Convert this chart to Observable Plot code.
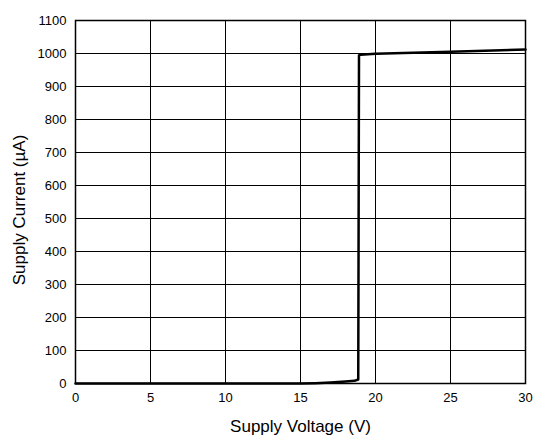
<!DOCTYPE html>
<html><head><meta charset="utf-8">
<script src="https://cdn.jsdelivr.net/npm/d3@7"></script>
<script src="https://cdn.jsdelivr.net/npm/@observablehq/plot@0.6"></script>
<style>body{margin:0;background:#fff;} svg{font-family:"Liberation Sans",Arial,sans-serif;}</style>
</head><body><div id="chart"></div>
<script>
const voltage = [0, 5, 10, 15, 16, 17, 18, 18.6, 18.85, 18.9, 19, 20, 25, 30];
const current = [0, 0, 0, 0, 1, 3, 6, 8, 12, 995, 996, 999, 1005, 1012];
const xTicks = [0, 5, 10, 15, 20, 25, 30];
const yTicks = [0, 100, 200, 300, 400, 500, 600, 700, 800, 900, 1000, 1100];
const xLabel = "Supply Voltage (V)";
const yLabel = "Supply Current (µA)";
const data = voltage.map((v, i) => ({v, c: current[i]}));

const chart = Plot.plot({
  width: 534, height: 439,
  marginLeft: 75, marginRight: 9, marginTop: 20, marginBottom: 56,
  style: {fontFamily: "Liberation Sans, Arial, sans-serif", fontSize: "13px", color: "#000", background: "#fff"},
  x: {domain: [0, 30], ticks: xTicks},
  y: {domain: [0, 1100], ticks: yTicks},
  marks: [
    Plot.gridX(xTicks, {stroke: "#000", strokeOpacity: 1, strokeWidth: 1}),
    Plot.gridY(yTicks, {stroke: "#000", strokeOpacity: 1, strokeWidth: 1}),
    Plot.axisX(xTicks, {tickSize: 0, tickPadding: 9, fontSize: 13, tickFormat: d => String(d), label: null}),
    Plot.axisY(yTicks, {tickSize: 0, tickPadding: 9, fontSize: 13, tickFormat: d => String(d), label: null}),
    Plot.text([xLabel], {text: d => d, frameAnchor: "bottom", lineAnchor: "middle", textAnchor: "middle", dy: 43.5, fontSize: 17, fill: "#000"}),
    Plot.text([yLabel], {text: d => d, frameAnchor: "left", lineAnchor: "middle", textAnchor: "middle", rotate: -90, dx: -55.5, dy: 8, fontSize: 17, fill: "#000"}),
    Plot.frame({stroke: "#000", strokeWidth: 1.5}),
    Plot.line(data, {x: "v", y: "c", stroke: "#000", strokeWidth: 2.5})
  ]
});
document.getElementById("chart").appendChild(chart);
</script></body></html>
